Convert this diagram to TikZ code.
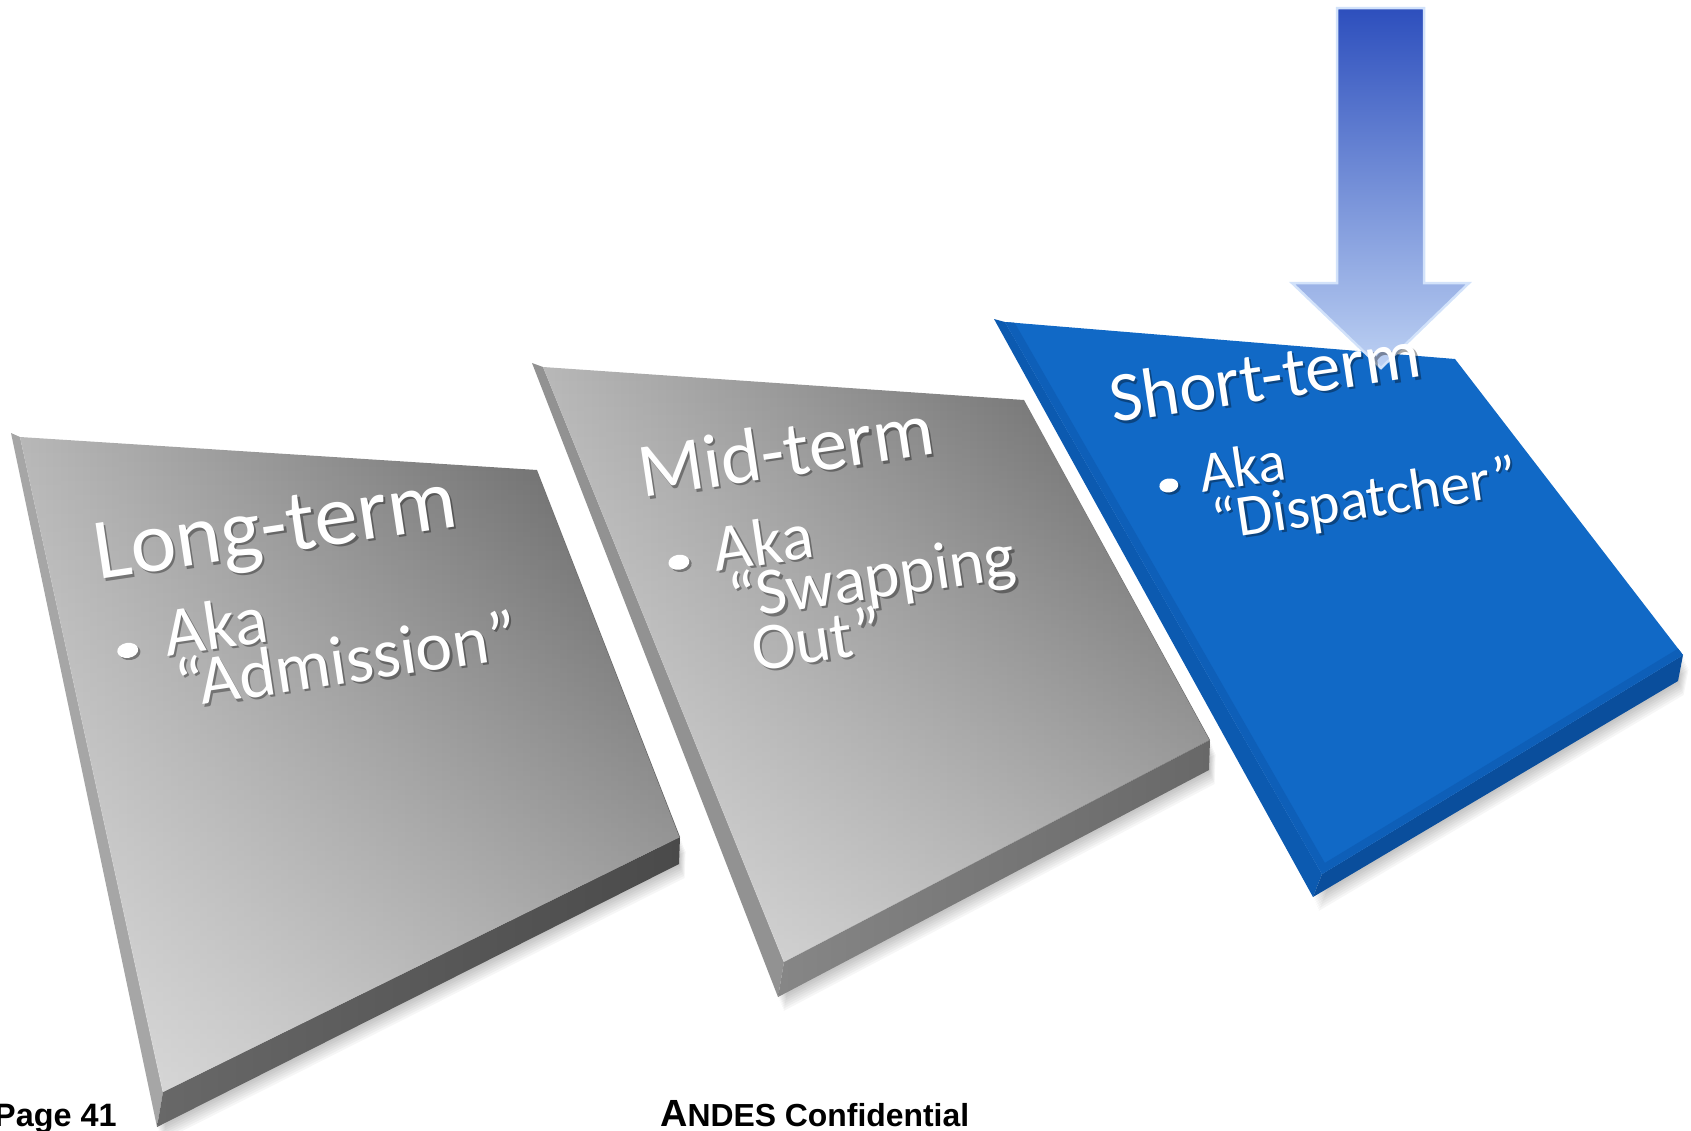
\documentclass[tikz,border=0pt]{standalone}
\usepackage{fontspec}
\setmainfont{Carlito}
\newfontfamily\footfont{Liberation Sans}
\usetikzlibrary{fadings}
\definecolor{gL}{HTML}{B8B8B8}
\definecolor{gM}{HTML}{767676}
\definecolor{gD}{HTML}{5E5E5E}
\definecolor{gStripL}{HTML}{A6A6A6}
\definecolor{gStripB}{HTML}{4A4A4A}
\definecolor{gStripB2}{HTML}{686868}
\definecolor{bFace}{HTML}{1169C6}
\definecolor{bBevel}{HTML}{0E5FB8}
\definecolor{bStripL}{HTML}{0C5AB0}
\definecolor{bStripB}{HTML}{0A4E9C}
\definecolor{aTop}{HTML}{2D4FBD}
\definecolor{aMid}{HTML}{5F88D6}
\definecolor{aBot}{HTML}{BDD1F3}
\definecolor{aEdge}{HTML}{D2E2FA}
\tikzfading[name=lowlight, top color=transparent!100, middle color=transparent!100, bottom color=transparent!45]
\newcommand\slabshadow[4]{%
  \foreach \k in {2,4,...,14}{%
    \fill[black, opacity=0.035] ([shift={(0.4*\k,-\k)}]#1) -- ([shift={(0.4*\k,-\k)}]#2)
      -- ([shift={(0.4*\k,-\k)}]#3) -- ([shift={(0.4*\k,-\k)}]#4) -- cycle;}}
\newcommand\tiletxt[4]{%
  \node[tileshadow, font=\fontsize{#3}{#3}\selectfont, xshift=2bp, yshift=-2.5bp] (#1-s) at (#2) {#4};
  \node[tiletext, font=\fontsize{#3}{#3}\selectfont] (#1) at (#2) {#4};}
\newcommand\tiledot[3]{%
  \fill[black, opacity=.35] ([shift={(2,-2.5)}]#1) ellipse [x radius=#2, y radius=#3];
  \fill[white] (#1) ellipse [x radius=#2, y radius=#3];}
\begin{document}
\begin{tikzpicture}[x=1bp,y=1bp,
  tiletext/.style={text=white, anchor=base west, inner sep=0pt},
  tileshadow/.style={text=black, opacity=0.35, anchor=base west, inner sep=0pt},
  grayface/.style={left color=gL, middle color=gM, right color=gD},
  footer/.style={anchor=base west, inner sep=0pt, text=black}]
\useasboundingbox (0,0) rectangle (1691,-1130);

% ---------- Long-term slab ----------
\coordinate (LTL) at (11,-433);
\coordinate (LTLf) at (20,-437);
\coordinate (LTR) at (537,-470);
\coordinate (LRf) at (680,-837);
\coordinate (LRb) at (679,-864);
\coordinate (LBf) at (163,-1092);
\coordinate (LBb) at (157,-1127);
\slabshadow{LBf}{LRf}{LRb}{LBb}
\fill[gStripL] (LTL) -- (LTLf) -- (LBf) -- (LBb) -- cycle;
\shade[left color=gStripB2, right color=gStripB] (LBf) -- (LRf) -- (LRb) -- (LBb) -- cycle;
\shade[grayface] (LTLf) -- (LTR) -- (LRf) -- (LBf) -- cycle;
\fill[white, path fading=lowlight] (LTLf) -- (LTR) -- (LRf) -- (LBf) -- cycle;
\begin{scope}[shift={(98,-580)}, rotate=8.5, transform shape]
  \tiletxt{L1}{0,0}{87}{Long-term}
  \coordinate (Ld) at (19,-74);
  \tiledot{Ld}{10.5}{7.5}
  \tiletxt{L2}{57,-86}{70}{Aka}
  \tiletxt{L3}{61,-139}{70}{“Admission”}
\end{scope}

% ---------- Mid-term slab ----------
\coordinate (MTL) at (532,-363);
\coordinate (MTLf) at (543,-367);
\coordinate (MTR) at (1024,-400);
\coordinate (MRf) at (1210,-740);
\coordinate (MRb) at (1209,-770);
\coordinate (MBf) at (784,-962);
\coordinate (MBb) at (778,-997);
\slabshadow{MBf}{MRf}{MRb}{MBb}
\fill[gStripL!88!black] (MTL) -- (MTLf) -- (MBf) -- (MBb) -- cycle;
\shade[left color=gStripB2!80!white, right color=gStripB2] (MBf) -- (MRf) -- (MRb) -- (MBb) -- cycle;
\shade[grayface] (MTLf) -- (MTR) -- (MRf) -- (MBf) -- cycle;
\fill[white, path fading=lowlight] (MTLf) -- (MTR) -- (MRf) -- (MBf) -- cycle;
\begin{scope}[shift={(642,-498)}, rotate=8.5, transform shape]
  \tiletxt{M1}{0,0}{77}{Mid-term}
  \coordinate (Md) at (27,-69);
  \tiledot{Md}{10.5}{7.5}
  \tiletxt{M2}{63,-84}{67}{Aka}
  \tiletxt{M3}{71,-134}{67}{“Swapping}
  \tiletxt{M4}{86,-188}{67}{Out”}
\end{scope}

% ---------- Short-term slab ----------
\coordinate (STL) at (994,-319);
\coordinate (STLf) at (1005,-322);
\coordinate (STR) at (1455,-359);
\coordinate (SRf) at (1683,-655);
\coordinate (SRb) at (1678,-681);
\coordinate (SBf) at (1322,-874);
\coordinate (SBb) at (1313,-897);
\slabshadow{SBf}{SRf}{SRb}{SBb}
\fill[bStripL] (STL) -- (STLf) -- (SBf) -- (SBb) -- cycle;
\fill[bStripB] (SBf) -- (SRf) -- (SRb) -- (SBb) -- cycle;
\fill[bFace] (STLf) -- (STR) -- (SRf) -- (SBf) -- cycle;
\begin{scope}
  \clip (STLf) -- (STR) -- (SRf) -- (SBf) -- cycle;
  \draw[bBevel, line width=16bp, line join=miter] (STLf) -- (SBf) -- (SRf);
\end{scope}

% ---------- arrow ----------
\coordinate (A1) at (1337,-8);
\coordinate (A2) at (1424,-8);
\coordinate (A3) at (1424,-283);
\coordinate (A4) at (1469,-283);
\coordinate (A5) at (1381,-368);
\coordinate (A6) at (1292,-283);
\coordinate (A7) at (1337,-283);
\shade[top color=aTop, middle color=aMid, bottom color=aBot, draw=aEdge, line width=2.5bp, line join=miter]
  (A1) -- (A2) -- (A3) -- (A4) -- (A5) -- (A6) -- (A7) -- cycle;

\begin{scope}[shift={(1113,-423)}, rotate=8.5, transform shape]
  \tiletxt{S1}{0,0}{71}{Short-term}
  \coordinate (Sd) at (46,-70);
  \tiledot{Sd}{9.5}{7}
  \tiletxt{S2}{78,-82}{58}{Aka}
  \tiletxt{S3}{84,-131}{59}{“Dispatcher”}
\end{scope}

% ---------- footer ----------
\node[footer, font=\footfont\bfseries\fontsize{32.5}{33}\selectfont] (pg) at (-6,-1126) {Page 41};
\node[footer, font=\footfont\bfseries\fontsize{32}{33}\selectfont] (conf) at (660,-1126)
  {{\fontsize{38}{38}\selectfont A}NDES Confidential};
\end{tikzpicture}
\end{document}
